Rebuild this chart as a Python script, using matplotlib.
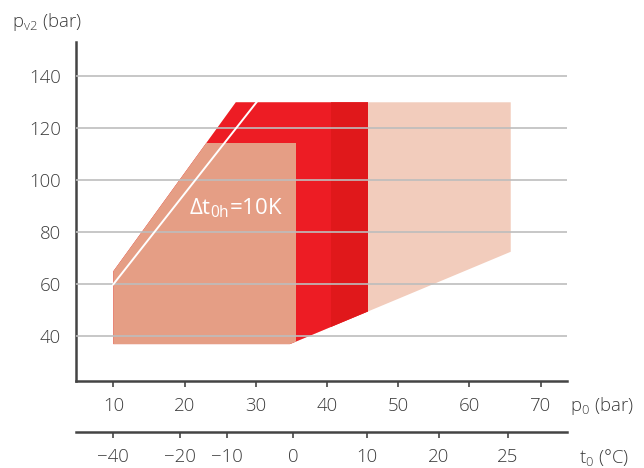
import matplotlib
matplotlib.use("Agg")
import matplotlib.pyplot as plt
from matplotlib.patches import Polygon

# ---- data ----
p0_ticks = [10, 20, 30, 40, 50, 60, 70]
pv2_ticks = [40, 60, 80, 100, 120, 140]
t0_labels = ["\u221240", "\u221220", "\u221210", "0", "10", "20", "25"]
t0_at_p0 = [10.0, 19.4, 26.0, 35.2, 45.6, 55.7, 65.4]

# envelope of the application range (p0, pv2)
env_p0 = [10, 34.8, 65.8, 65.8, 27.2, 10]
env_pv2 = [37, 37, 72.5, 130, 130, 65]

# bands (p0 limits) inside the envelope
red_p0 = [10, 45.7]
darkred_p0 = [40.6, 45.7]
salmon_p0 = [10, 35.6]
salmon_pv2 = [30, 114.5]
band_pv2 = [30, 135]

# superheat line
line_p0 = [10, 30.1]
line_pv2 = [60, 130]

label_text = "\u0394t$_{\\mathregular{0h}}$=10K"
label_pos = (27.2, 86.7)

# ---- style ----
TXT = "#3c3c3c"
plt.rcParams["font.family"] = ["Open Sans", "DejaVu Sans"]
plt.rcParams["font.weight"] = "light"
plt.rcParams["mathtext.default"] = "regular"

fig = plt.figure(figsize=(6.44, 4.68), dpi=100)
ax = fig.add_axes([76 / 644, 1 - 381 / 468, (567 - 76) / 644, (381 - 41.7) / 468])
ax.set_xlim(4.76, 73.7)
ax.set_ylim(22.8, 153.3)

env = Polygon(list(zip(env_p0, env_pv2)), closed=True, facecolor="#F2CCBC",
              edgecolor="none", zorder=1)
ax.add_patch(env)

def band(xs, ys, color, z):
    p = ax.fill([xs[0], xs[1], xs[1], xs[0]], [ys[0], ys[0], ys[1], ys[1]],
                color=color, lw=0, zorder=z)[0]
    p.set_clip_path(env)

band(red_p0, band_pv2, "#ED1C24", 1.1)
band(darkred_p0, band_pv2, "#E0181B", 1.2)
band(salmon_p0, salmon_pv2, "#E59E85", 1.3)

ax.set_axisbelow(False)
ax.yaxis.grid(True, color="#bdbdbd", lw=1.2, zorder=2)
ax.plot(line_p0, line_pv2, color="white", lw=1.4, zorder=3)
ax.text(label_pos[0], label_pos[1], label_text, color="white", fontsize=16,
        fontweight="normal", ha="center", va="baseline", zorder=4)

for s in ["top", "right"]:
    ax.spines[s].set_visible(False)
for s in ["left", "bottom"]:
    ax.spines[s].set_color("#444444")
    ax.spines[s].set_linewidth(1.8)

ax.set_xticks(p0_ticks)
ax.set_yticks(pv2_ticks)
ax.tick_params(axis="y", length=0, pad=11, labelsize=13.4, labelcolor=TXT)
ax.tick_params(axis="x", length=4.5, width=1.2, color="#444444", pad=7,
               labelsize=13.4, labelcolor=TXT, direction="out")

ax2 = ax.twiny()
ax2.set_xlim(ax.get_xlim())
ax2.xaxis.set_ticks_position("bottom")
ax2.xaxis.set_label_position("bottom")
for s in ["top", "right", "left"]:
    ax2.spines[s].set_visible(False)
ax2.spines["bottom"].set_position(("outward", 36.7))
ax2.spines["bottom"].set_color("#444444")
ax2.spines["bottom"].set_linewidth(1.8)
ax2.set_xticks(t0_at_p0)
ax2.set_xticklabels(t0_labels)
ax2.tick_params(axis="x", length=4.5, width=1.2, color="#444444", pad=7,
                labelsize=13.4, labelcolor=TXT, direction="out")

fig.text(12 / 644, 1 - 22 / 468, "p$_{\\mathregular{v2}}$ (bar)", fontsize=13.4,
         color=TXT, ha="left", va="center")
fig.text(570 / 644, 1 - 406 / 468, "p$_{\\mathregular{0}}$ (bar)", fontsize=13.4,
         color=TXT, ha="left", va="center")
fig.text(579 / 644, 1 - 457 / 468, "t$_{\\mathregular{0}}$ (\u00b0C)", fontsize=13.4,
         color=TXT, ha="left", va="center")

fig.savefig("out.png", dpi=100)
